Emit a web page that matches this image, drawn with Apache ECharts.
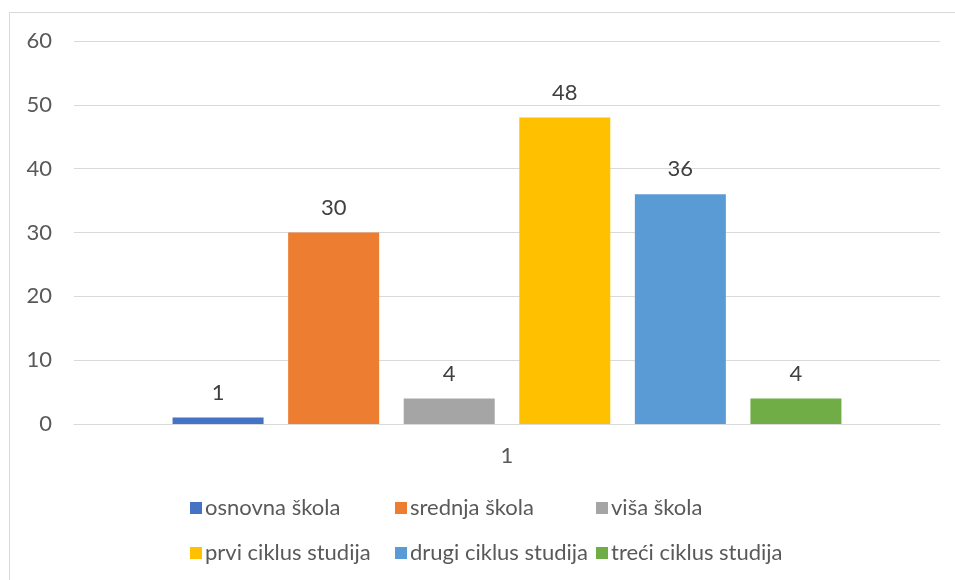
<!DOCTYPE html>
<html>
<head>
<meta charset="utf-8">
<script src="https://cdn.jsdelivr.net/npm/echarts@6/dist/echarts.min.js"></script>
<style>
  html, body { margin: 0; padding: 0; background: #fff; }
  #chart { width: 955px; height: 580px; }
</style>
</head>
<body>
<div id="chart"></div>
<script>
  // podaci sa grafika
  const categories = ['1']
  const seriesNames = ['osnovna škola', 'srednja škola', 'viša škola', 'prvi ciklus studija', 'drugi ciklus studija', 'treći ciklus studija']
  const seriesValues = [1, 30, 4, 48, 36, 4]
  const colors = ['#4472C4', '#ED7D31', '#A5A5A5', '#FFC000', '#5B9BD5', '#70AD47']
  const yTicks = { min: 0, max: 60, interval: 10 }

  const font = 'Lato'
  const chart = echarts.init(document.getElementById('chart'))

  let series = seriesNames.map(function (name, i) {
    return {
      name: name,
      type: 'bar',
      data: [seriesValues[i]],
      barWidth: 91,
      barGap: '27%',
      itemStyle: { color: colors[i] },
      label: {
        show: true,
        position: 'top',
        distance: 14,
        color: '#404040',
        fontFamily: font,
        fontSize: 22
      }
    }
  })

  // legenda u tri kolone, po dva reda
  let legendCol = function (names, left) {
    return {
      orient: 'vertical',
      left: left,
      top: 492,
      itemGap: 23,
      itemWidth: 12,
      itemHeight: 12,
      icon: 'rect',
      data: names,
      textStyle: { color: '#595959', fontFamily: font, fontSize: 22, padding: [0, 0, 0, -2] }
    }
  }

  chart.setOption({
    animation: false,
    color: colors,
    grid: { left: 74, right: 15, top: 41, bottom: 156 },
    graphic: [{
      type: 'rect',
      shape: { x: 9.5, y: 12.5, width: 980, height: 600 },
      style: { fill: 'none', stroke: '#d9d9d9', lineWidth: 1 },
      silent: true
    }],
    legend: [
      legendCol([seriesNames[0], seriesNames[3]], 185),
      legendCol([seriesNames[1], seriesNames[4]], 390),
      legendCol([seriesNames[2], seriesNames[5]], 591)
    ],
    xAxis: {
      type: 'category',
      data: categories,
      axisLine: { lineStyle: { color: '#d9d9d9', width: 1 } },
      axisTick: { show: false },
      axisLabel: { color: '#595959', fontFamily: font, fontSize: 22, margin: 21 }
    },
    yAxis: {
      type: 'value',
      min: yTicks.min,
      max: yTicks.max,
      interval: yTicks.interval,
      axisLine: { show: false },
      axisTick: { show: false },
      splitLine: { lineStyle: { color: '#d9d9d9', width: 1 } },
      axisLabel: { color: '#595959', fontFamily: font, fontSize: 22, margin: 22 }
    },
    series: series
  })
</script>
</body>
</html>
